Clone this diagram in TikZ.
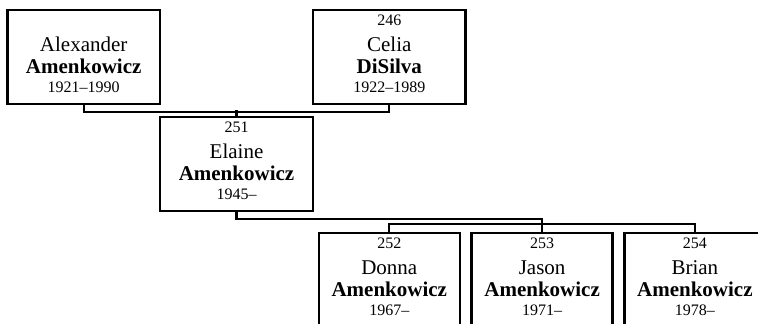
\documentclass[tikz,border=0pt]{standalone}
\usepackage{fontspec}
\setmainfont{Liberation Serif}
\usetikzlibrary{calc}
\newcommand{\famtext}[4]{{\fontsize{16}{16}\selectfont #1}\\[5pt]#2\\[0.6pt]\textbf{#3}\\[-2pt]{\fontsize{16}{16}\selectfont #4}}
\tikzset{
  personbox/.style={draw=black, line width=2.6pt, minimum width=152.8pt, minimum height=94pt, inner sep=0pt, align=center, font=\fontsize{21}{21}\selectfont, text height=82.3pt, text depth=11.7pt},
  childbox/.style={personbox, minimum width=141pt},
  link/.style={black, line width=2.2pt}
}
\begin{document}
\begin{tikzpicture}[x=1pt,y=1pt]
  \useasboundingbox (0,0) rectangle (758,-324);
  \fill[white] (0,0) rectangle (758,-324);
  \clip (0,0) rectangle (758,-324);
  % parents
  \node[personbox] (alexander) at (83.7,-57) {\famtext{}{Alexander}{Amenkowicz}{1921--1990}};
  \node[personbox] (celia) at (389.3,-57) {\famtext{246}{Celia}{DiSilva}{1922--1989}};
  \node[personbox] (elaine) at (236.5,-164) {\famtext{251}{Elaine}{Amenkowicz}{1945--}};
  % children
  \node[childbox] (donna) at (389.3,-280) {\famtext{252}{Donna}{Amenkowicz}{1967--}};
  \node[childbox] (jason) at (542.1,-280) {\famtext{253}{Jason}{Amenkowicz}{1971--}};
  \node[childbox] (brian) at (694.9,-280) {\famtext{254}{Brian}{Amenkowicz}{1978--}};
  \draw[link] (alexander.south) -- ++(0,-7) -| (celia.south);
  \draw[link] (elaine.north) -- ++(0,6);
  \draw[link] (elaine.south) -- ++(0,-7) -| (jason.north);
  \draw[link] (donna.north) -- ++(0,7.5) -| (brian.north);
\end{tikzpicture}
\end{document}
